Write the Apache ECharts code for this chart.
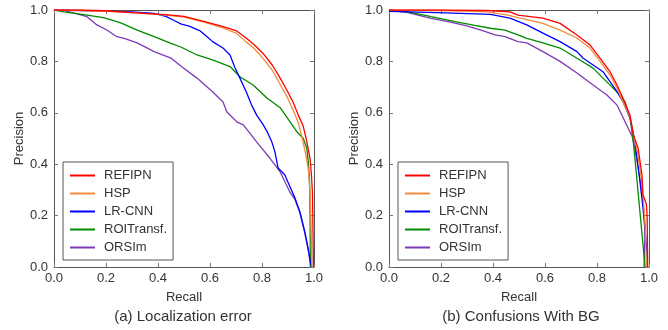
<!DOCTYPE html>
<html>
<head>
<meta charset="utf-8">
<script src="https://cdn.jsdelivr.net/npm/echarts@6/dist/echarts.min.js"></script>
<style>html,body{margin:0;padding:0;background:#fff}#c{width:668px;height:330px}</style>
</head>
<body>
<div id="c"></div>
<script>
// ---- data (recall, precision) ----
const seriesNames = ['REFIPN', 'HSP', 'LR-CNN', 'ROITransf.', 'ORSIm'];
const tickValues = [0, 0.2, 0.4, 0.6, 0.8, 1.0];
const captions = ['(a) Localization error', '(b) Confusions With BG'];

// (a) Localization error
const a_REFIPN = [[0,1],[0.1,1],[0.2,0.997],[0.3,0.99],[0.43,0.982],[0.5,0.975],[0.58,0.955],[0.65,0.935],[0.7,0.92],[0.74,0.89],[0.77,0.865],[0.805,0.83],[0.84,0.785],[0.87,0.735],[0.9,0.68],[0.92,0.64],[0.94,0.59],[0.958,0.55],[0.972,0.49],[0.985,0.42],[0.99,0.36],[0.994,0.29],[0.996,0.15],[0.998,0]];
const a_HSP = [[0,1],[0.1,0.998],[0.2,0.995],[0.3,0.99],[0.43,0.98],[0.5,0.972],[0.58,0.952],[0.65,0.93],[0.7,0.91],[0.74,0.875],[0.77,0.85],[0.805,0.81],[0.84,0.765],[0.87,0.71],[0.9,0.655],[0.92,0.61],[0.94,0.56],[0.955,0.5],[0.968,0.44],[0.978,0.38],[0.984,0.3],[0.988,0.2],[0.99,0.1],[0.992,0]];
const a_LRCNN = [[0,1],[0.1,0.998],[0.2,0.996],[0.3,0.993],[0.385,0.987],[0.43,0.975],[0.46,0.96],[0.49,0.945],[0.52,0.937],[0.56,0.92],[0.59,0.895],[0.61,0.877],[0.65,0.852],[0.677,0.825],[0.696,0.775],[0.715,0.735],[0.74,0.68],[0.76,0.63],[0.78,0.59],[0.805,0.553],[0.82,0.526],[0.838,0.486],[0.85,0.447],[0.862,0.385],[0.888,0.358],[0.9,0.33],[0.927,0.268],[0.946,0.214],[0.965,0.136],[0.977,0.074],[0.99,0]];
const a_ROITransf = [[0,1],[0.04,0.993],[0.127,0.98],[0.19,0.97],[0.257,0.95],[0.32,0.922],[0.385,0.896],[0.45,0.87],[0.49,0.855],[0.55,0.825],[0.612,0.805],[0.677,0.78],[0.715,0.74],[0.766,0.708],[0.82,0.657],[0.87,0.62],[0.908,0.565],[0.935,0.525],[0.959,0.5],[0.972,0.463],[0.978,0.41],[0.983,0.33],[0.985,0.2],[0.986,0]];
const a_ORSIm = [[0,1],[0.04,0.998],[0.077,0.988],[0.127,0.974],[0.165,0.942],[0.203,0.922],[0.242,0.896],[0.27,0.89],[0.32,0.872],[0.385,0.838],[0.45,0.813],[0.49,0.78],[0.55,0.735],[0.612,0.68],[0.65,0.642],[0.665,0.603],[0.703,0.565],[0.728,0.553],[0.754,0.52],[0.78,0.486],[0.83,0.424],[0.87,0.37],[0.908,0.29],[0.927,0.262],[0.946,0.21],[0.965,0.13],[0.977,0.07],[0.988,0]];

// (b) Confusions With BG
const b_REFIPN = [[0,1],[0.2,1],[0.38,0.998],[0.465,0.993],[0.496,0.98],[0.592,0.968],[0.658,0.948],[0.723,0.903],[0.773,0.864],[0.812,0.812],[0.85,0.76],[0.877,0.708],[0.9,0.657],[0.927,0.59],[0.94,0.514],[0.958,0.463],[0.973,0.358],[0.977,0.28],[0.99,0.245],[0.993,0.19],[0.995,0]];
const b_HSP = [[0,1],[0.2,0.998],[0.38,0.993],[0.458,0.98],[0.496,0.97],[0.592,0.948],[0.658,0.922],[0.723,0.891],[0.773,0.852],[0.812,0.8],[0.85,0.747],[0.877,0.696],[0.9,0.642],[0.927,0.585],[0.94,0.514],[0.955,0.45],[0.97,0.35],[0.98,0.24],[0.987,0.12],[0.99,0]];
const b_LRCNN = [[0,0.995],[0.188,0.99],[0.39,0.983],[0.465,0.968],[0.53,0.942],[0.592,0.91],[0.658,0.877],[0.723,0.838],[0.747,0.812],[0.785,0.786],[0.823,0.76],[0.85,0.721],[0.877,0.682],[0.9,0.643],[0.927,0.58],[0.946,0.486],[0.962,0.36],[0.977,0.23],[0.992,0.06],[0.993,0]];
const b_ROITransf = [[0,1],[0.073,0.993],[0.162,0.974],[0.254,0.955],[0.33,0.94],[0.39,0.929],[0.446,0.922],[0.496,0.903],[0.53,0.89],[0.592,0.872],[0.658,0.852],[0.723,0.812],[0.785,0.774],[0.823,0.735],[0.862,0.696],[0.888,0.669],[0.908,0.642],[0.927,0.58],[0.94,0.486],[0.985,0]];
const b_ORSIm = [[0,1],[0.073,0.99],[0.162,0.967],[0.227,0.955],[0.292,0.94],[0.354,0.922],[0.408,0.903],[0.446,0.896],[0.496,0.877],[0.53,0.872],[0.592,0.838],[0.658,0.8],[0.723,0.755],[0.785,0.708],[0.838,0.669],[0.877,0.63],[0.908,0.565],[0.927,0.525],[0.935,0.51],[0.953,0.42],[0.973,0.29],[0.985,0.16],[0.982,0.05],[0.981,0]];

const seriesColors = ['#ff0000', '#f28b3c', '#0000ff', '#008a00', '#7d3cb5'];
const panelA = [a_REFIPN, a_HSP, a_LRCNN, a_ROITransf, a_ORSIm];
const panelB = [b_REFIPN, b_HSP, b_LRCNN, b_ROITransf, b_ORSIm];

// ---- chart ----
const FONT = '"Liberation Sans", Arial, sans-serif';
const TXT = '#333';
const LINE = '#555';
const grids = [
  {left: 54, top: 10, width: 260, height: 257},
  {left: 389, top: 10, width: 260, height: 257}
];
function axisBase(extra) {
  return Object.assign({
    type: 'value', min: 0, max: 1, interval: 0.2,
    axisLine: {show: true, onZero: false, lineStyle: {color: LINE, width: 1}},
    axisTick: {show: true, inside: true, length: 4, lineStyle: {color: '#777'}},
    splitLine: {show: false},
    axisLabel: {show: true, color: TXT, fontSize: 13, fontFamily: FONT, formatter: v => v.toFixed(1)}
  }, extra);
}
const xAxes = [], yAxes = [];
[0, 1].forEach(g => {
  xAxes.push(axisBase({gridIndex: g, position: 'bottom', name: 'Recall', nameLocation: 'middle', nameGap: 24,
    nameTextStyle: {color: TXT, fontSize: 13, fontFamily: FONT}, axisLabel: {color: TXT, fontSize: 13, fontFamily: FONT, margin: 5, formatter: v => v.toFixed(1)}}));
  xAxes.push(axisBase({gridIndex: g, position: 'top', axisLabel: {show: false}}));
  yAxes.push(axisBase({gridIndex: g, position: 'left', name: 'Precision', nameLocation: 'middle', nameGap: 26,
    nameTextStyle: {color: TXT, fontSize: 13, fontFamily: FONT}, axisLabel: {color: TXT, fontSize: 13, fontFamily: FONT, margin: 6, formatter: v => v.toFixed(1)}}));
  yAxes.push(axisBase({gridIndex: g, position: 'right', axisLabel: {show: false}}));
});

const series = [];
[panelA, panelB].forEach((panel, g) => {
  for (let i = panel.length - 1; i >= 0; i--) {
    series.push({
      type: 'line', name: seriesNames[i], xAxisIndex: g * 2, yAxisIndex: g * 2,
      data: panel[i], showSymbol: false, symbol: 'none', smooth: false,
      lineStyle: {color: seriesColors[i], width: 1.3}, itemStyle: {color: seriesColors[i]},
      z: 2 + (panel.length - i)
    });
  }
});

function legendAt(left) {
  return {
    orient: 'vertical', left: left, top: 162, selectedMode: false,
    data: seriesNames, icon: 'rect', itemWidth: 25, itemHeight: 2, itemGap: 5,
    padding: [7, 6, 6, 7], borderColor: LINE, borderWidth: 1, borderRadius: 0, backgroundColor: '#fff',
    textStyle: {color: TXT, fontSize: 13, fontFamily: FONT, padding: [0, 0, 0, 4]}
  };
}

const chart = echarts.init(document.getElementById('c'), null, {renderer: 'canvas'});
chart.setOption({
  animation: false,
  backgroundColor: '#fff',
  color: seriesColors,
  title: [
    {text: captions[0], left: 183, top: 309, textAlign: 'center', padding: 0, textStyle: {color: TXT, fontSize: 15, fontWeight: 'normal', fontFamily: FONT}},
    {text: captions[1], left: 521, top: 309, textAlign: 'center', padding: 0, textStyle: {color: TXT, fontSize: 15, fontWeight: 'normal', fontFamily: FONT}}
  ],
  grid: grids,
  xAxis: xAxes,
  yAxis: yAxes,
  legend: [legendAt(63), legendAt(398)],
  series: series
});
</script>
</body>
</html>
